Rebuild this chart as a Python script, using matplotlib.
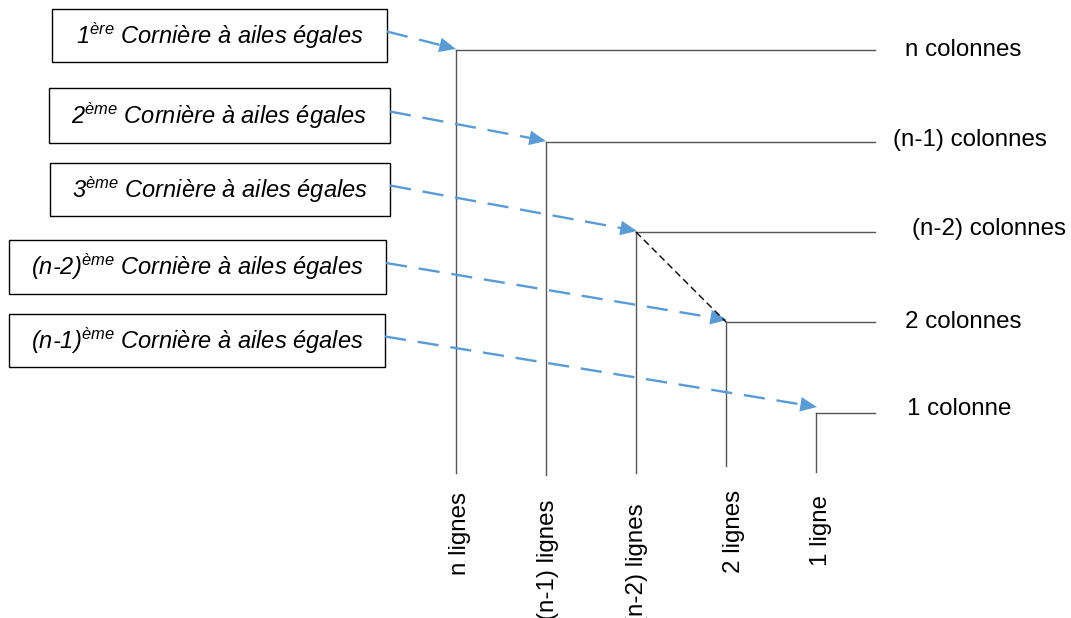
import matplotlib
matplotlib.use("Agg")
import matplotlib.pyplot as plt
from matplotlib.patches import Rectangle, FancyArrowPatch

plt.rcParams['font.family'] = ['Liberation Sans', 'DejaVu Sans']
plt.rcParams['mathtext.fontset'] = 'custom'
plt.rcParams['mathtext.rm'] = 'Liberation Sans:italic'
plt.rcParams['mathtext.it'] = 'Liberation Sans:italic'

# corners of the nested angles (pixel space, y down)
corner_x = [456, 546, 636, 726, 816]
corner_y = [50, 142, 232, 322, 413]
bottom_y = [473, 475, 473, 466, 472]
right_x = 875

col_labels = ["n colonnes", "(n-1) colonnes", "(n-2) colonnes", "2 colonnes", "1 colonne"]
col_label_x = [905, 893, 912, 905, 907]
col_label_y = [50, 140, 229, 322, 409]

row_labels = ["n lignes", "(n-1) lignes", "(n-2) lignes", "2 lignes", "1 ligne"]
row_label_x = [460, 548, 637, 734, 821]
row_label_top = [492, 500, 503, 490, 495]

box_prefix = ["1", "2", "3", "(n-2)", "(n-1)"]
box_sup = ["ère", "ème", "ème", "ème", "ème"]
box_left = [52, 49, 50, 9, 9]
box_right = [387, 390, 390, 386, 385]
box_top = [9, 88, 163, 240, 314]
box_bottom = [62, 143, 216, 294, 367]
arrow_tip = [(456, 49), (546, 141), (637, 231), (727, 320), (817, 407)]

fig = plt.figure(figsize=(10.71, 6.18), dpi=100)
ax = fig.add_axes([0, 0, 1, 1])
ax.set_xlim(0, 1071)
ax.set_ylim(618, 0)
ax.axis('off')

grey = '#555555'
blue = '#5B9BD5'

for i in range(5):
    cx, cy = corner_x[i], corner_y[i]
    ax.plot([cx, right_x], [cy, cy], color=grey, lw=1)
    ax.plot([cx, cx], [cy, bottom_y[i]], color=grey, lw=1)
    ax.text(col_label_x[i], col_label_y[i], col_labels[i], fontsize=17.4,
            ha='left', va='center')
    # the lower part of two of these runs past the bottom edge, as in the source
    ax.text(row_label_x[i], row_label_top[i], row_labels[i], fontsize=17.4,
            rotation=90, ha='center', va='top')

    # label box
    l, r, t, b = box_left[i], box_right[i], box_top[i], box_bottom[i]
    ax.add_patch(Rectangle((l, t), r - l, b - t, fill=False, ec='black', lw=1))
    ax.text((l + r) / 2, (t + b) / 2, box_prefix[i] + "$^{" + box_sup[i] + "}$ Cornière à ailes égales",
            fontsize=17, style='italic', ha='center', va='center')

    # dashed blue arrow from the box to the corner
    sx, sy = r, (t + b) / 2 - 4
    tx, ty = arrow_tip[i]
    dx, dy = tx - sx, ty - sy
    n = (dx ** 2 + dy ** 2) ** 0.5
    hx, hy = tx - dx / n * 16, ty - dy / n * 16
    ax.plot([sx, hx], [sy, hy], color=blue, lw=1.7, dashes=(9, 5))
    ax.add_patch(FancyArrowPatch((hx - dx / n, hy - dy / n), (tx, ty),
                                 arrowstyle='-|>,head_length=0.5,head_width=0.22',
                                 mutation_scale=24,
                                 color=blue, lw=0, shrinkA=0, shrinkB=0))

# thin dashed diagonal between (n-2) and 2 columns corners
ax.plot([corner_x[2], corner_x[3]], [corner_y[2], corner_y[3]],
        color='black', lw=1, dashes=(5, 3))

fig.savefig("out.png", dpi=100)
